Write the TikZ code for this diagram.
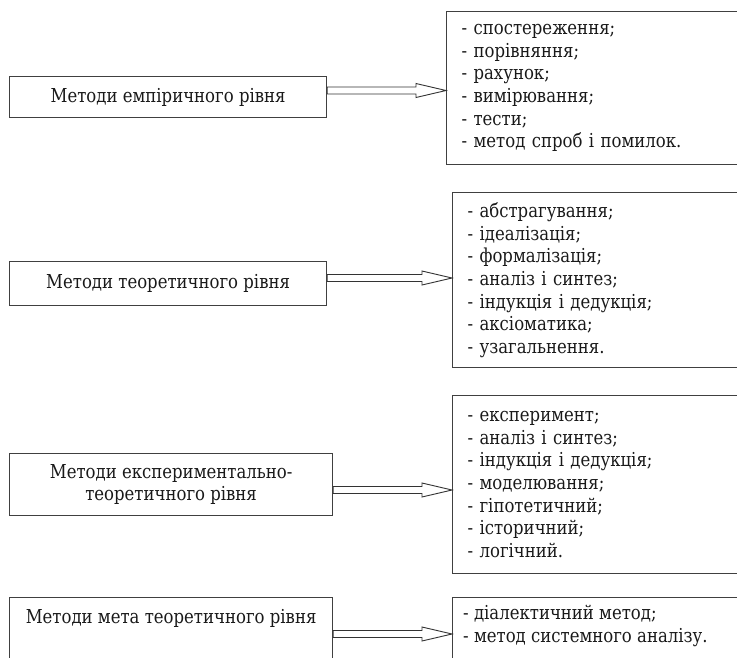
\documentclass[tikz,border=0pt]{standalone}
\usepackage{fontspec}
\setmainfont[FakeStretch=0.86]{DejaVu Serif}
\usetikzlibrary{calc}
\tikzset{
  base/.style={font=\fontsize{19.2}{22.6}\selectfont, text=black!90},
  lbox/.style={base, draw=black!75, line width=1.2pt, fill=white, inner sep=0pt, anchor=north west},
  rbox/.style={base, draw=black!75, line width=1.2pt, inner xsep=11pt, inner ysep=0pt, align=left, text width=300pt, minimum width=330pt, anchor=north west},
  fatarrow/.style={draw=black!80, line width=0.9pt, fill=white,
    to path={let \p1=(\tikztostart), \p2=(\tikztotarget) in
      (\x1,\y1+3.5pt) -- (\x2-30pt,\y1+3.5pt) -- (\x2-30pt,\y1+7pt) -- (\x2,\y1)
      -- (\x2-30pt,\y1-7pt) -- (\x2-30pt,\y1-3.5pt) -- (\x1,\y1-3.5pt) -- cycle}}
}
\begin{document}
\begin{tikzpicture}[x=1pt,y=-1pt]
\useasboundingbox (0,0) rectangle (737,657);
\clip (0,0) rectangle (737,657);
% left boxes
\node[lbox, minimum width=317, minimum height=41] (a) at (9,76) {Методи емпіричного рівня};
\node[lbox, minimum width=317, minimum height=44] (b) at (9,261) {Методи теоретичного рівня};
\node[lbox, minimum width=323, minimum height=62, align=center] (c) at (9,453) {Методи експериментально-\\теоретичного рівня};
\node[lbox, minimum width=323, minimum height=80] (d) at (9,597) {};
\node[base] (dt) at ([yshift=-21pt]d.north) {Методи мета теоретичного рівня};
% right boxes
\node[rbox, minimum height=153] (ra) at (446,11) {- спостереження;\\- порівняння;\\- рахунок;\\- вимірювання;\\- тести;\\- метод спроб і помилок.};
\node[rbox, minimum height=175] (rb) at (452,192) {- абстрагування;\\- ідеалізація;\\- формалізація;\\- аналіз і синтез;\\- індукція і дедукція;\\- аксіоматика;\\- узагальнення.};
\node[rbox, minimum height=178] (rc) at (452,395) {- експеримент;\\- аналіз і синтез;\\- індукція і дедукція;\\- моделювання;\\- гіпотетичний;\\- історичний;\\- логічний.};
\node[rbox, minimum height=80] (rd) at (452,597) {};
\node[base, align=left, anchor=north west, inner sep=0pt] (rdt) at ([xshift=11pt,yshift=-8pt]rd.north west) {- діалектичний метод;\\- метод системного аналізу.};
% arrows
\draw[fatarrow] (a.east |- 0,90.5) to (ra.west |- 0,90.5);
\draw[fatarrow] (b.east |- 0,278) to (rb.west |- 0,278);
\draw[fatarrow] (c.east |- 0,490) to (rc.west |- 0,490);
\draw[fatarrow] (d.east |- 0,634) to (rd.west |- 0,634);
\end{tikzpicture}
\end{document}
